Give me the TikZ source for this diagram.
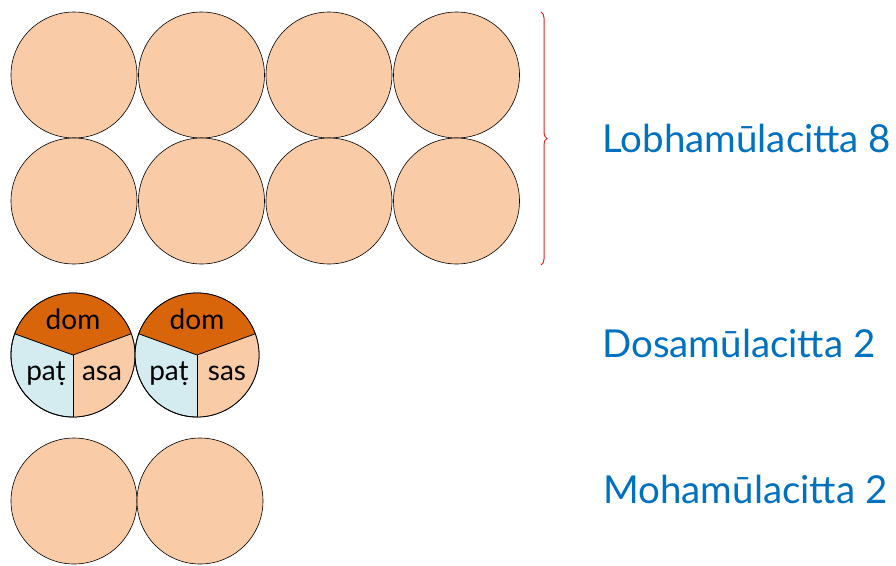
\documentclass[tikz,border=0pt]{standalone}
\usepackage{fontspec}
\setmainfont{Lato}
\usetikzlibrary{decorations.pathreplacing,calc}
\definecolor{peach}{HTML}{F9CBA6}
\definecolor{domc}{HTML}{D9650B}
\definecolor{patc}{HTML}{D4EBF0}
\definecolor{labblue}{HTML}{0070C0}
\definecolor{bracered}{HTML}{E8201C}
\begin{document}
\begin{tikzpicture}[x=1pt,y=-1pt]
\tikzset{
  circ/.style={circle,draw=black,line width=0.6pt,fill=peach,minimum size=126pt,inner sep=0pt},
  dcirc/.style={circle,draw=black,line width=0.8pt,fill=patc,minimum size=124pt,inner sep=0pt},
  lab/.style={text=labblue,font=\fontsize{38.5}{44}\selectfont,anchor=base west,inner sep=0pt},
  seg/.style={font=\fontsize{28}{32}\selectfont,inner sep=0pt,anchor=base}
}
\useasboundingbox (0,0) rectangle (896,565);
% Lobha circles
\foreach \i/\x in {1/74,2/201.5,3/329,4/456.5}{
  \node[circ] (la\i) at (\x,75) {};
  \node[circ] (lb\i) at (\x,201) {};
}
% Dosa circles
\foreach \i/\x in {1/73,2/197}{
  \node[dcirc] (d\i) at (\x,355) {};
  \fill[domc] (d\i.center) -- ++(20:62pt) arc[start angle=20,end angle=160,radius=62pt] -- cycle;
  \fill[peach] (d\i.center) -- ++(-90:62pt) arc[start angle=-90,end angle=20,radius=62pt] -- cycle;
  \draw[line width=0.8pt] (d\i.center) -- ++(20:62pt);
  \draw[line width=0.8pt] (d\i.center) -- ++(160:62pt);
  \draw[line width=0.8pt] (d\i.center) -- ++(-90:62pt);
  \draw[line width=0.8pt] (d\i.center) circle[radius=62pt];
  \node[seg] (dd\i) at ($(d\i.center)+(0,-26)$) {dom};
}
\node[seg] (p1) at (46,380) {paṭ};
\node[seg] (s1) at (102,380) {asa};
\node[seg] (p2) at (169,380) {paṭ};
\node[seg] (s2) at (227,380) {sas};
% Moha circles
\node[circ] (m1) at (74,501) {};
\node[circ] (m2) at (200,501) {};
% brace
\coordinate (bt) at (541,12);
\coordinate (bb) at (541,265);
\draw[bracered,line width=1pt,decorate,decoration={brace,amplitude=6pt}] (bt) -- (bb);
% labels
\node[lab] (L1) at (602,152) {Lobhamūlacitta 8};
\node[lab] (L2) at (602,357) {Dosamūlacitta 2};
\node[lab] (L3) at (603,503) {Mohamūlacitta 2};
\end{tikzpicture}
\end{document}
